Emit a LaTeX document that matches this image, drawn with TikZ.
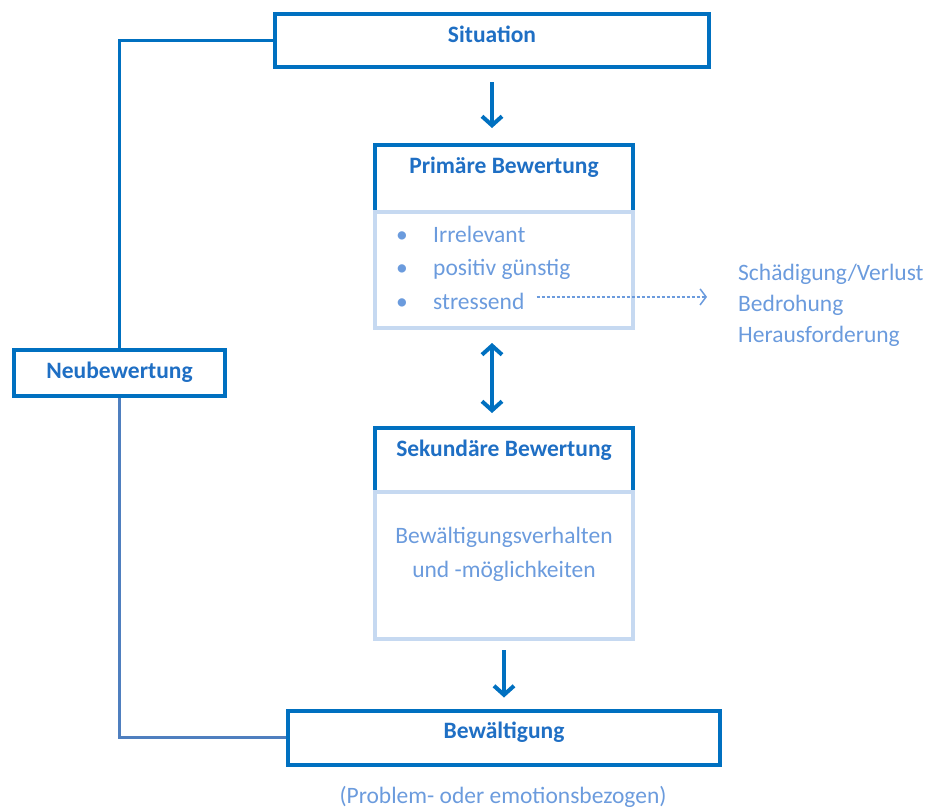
\documentclass[tikz,border=0pt]{standalone}
\usepackage{fontspec}
\setmainfont{Carlito}
\usetikzlibrary{arrows.meta,positioning,calc}

\definecolor{deepblue}{HTML}{0070C0}
\definecolor{titleblue}{HTML}{1F6FC4}
\definecolor{paleblue}{HTML}{C6D9F1}
\definecolor{softblue}{HTML}{6B9BDD}
\definecolor{linkblue}{HTML}{4F7FBF}

\begin{document}
\begin{tikzpicture}[
    x=1pt, y=-1pt,
    font=\fontsize{23.5}{28}\selectfont,
    box/.style={draw=deepblue, line width=4pt, fill=white, inner sep=0pt,
                text=titleblue, font=\fontsize{23.5}{28}\selectfont\bfseries, text height=28pt},
    body/.style={draw=paleblue, line width=4pt, inner sep=0pt},
    soft/.style={text=softblue, inner sep=0pt},
    flow/.style={line width=4pt, deepblue, {Straight Barb[length=9pt,width=20pt]}-{Straight Barb[length=9pt,width=20pt]}},
    down/.style={flow, -{Straight Barb[length=9pt,width=20pt]}},
    dasharr/.style={softblue, line width=1.5pt, dash pattern=on 3pt off 2pt,
                    -{Straight Barb[length=6pt,width=16pt,line width=1.5pt]}},
    link/.style={line width=2.5pt}
  ]
  \useasboundingbox (0,0) rectangle (925,808);

  % ---------- main column --------------------------------------------------
  \node[box, minimum width=434pt, text depth=25pt] (sit) at (492,40.5) {Situation};

  \node[box, minimum width=258pt, text depth=39pt] (prim) at (504,178.5) {Primäre Bewertung};
  \node[body, minimum width=258pt, minimum height=116pt] (pbody) at (504,270) {};

  \node[box, minimum width=258pt, text depth=36pt] (sek) at (504,460) {Sekundäre Bewertung};
  \node[body, minimum width=258pt, minimum height=147pt] (sbody) at (504,565.5) {};

  \node[box, minimum width=432pt, text depth=26pt] (bew) at (504,737.5) {Bewältigung};
  \node[soft, anchor=base] (bewnote) at (503,803) {(Problem- oder emotionsbezogen)};

  % ---------- feedback -----------------------------------------------------
  \node[box, minimum width=211pt, text depth=18pt] (neu) at (119.5,373) {Neubewertung};

  % ---------- box contents -------------------------------------------------
  \foreach \t [count=\i] in {Irrelevant, positiv günstig, stressend}{
    \node[soft, anchor=base west] (item\i) at (396,{242+(\i-1)*33.5})
      {\makebox[37pt][l]{\textbullet}\t};
  }

  % base of a multi-line node = baseline of its last line
  \node[soft, anchor=base west, align=left, font=\fontsize{23.5}{31}\selectfont] (cons) at (738,342)
    {Schädigung/Verlust\\Bedrohung\\Herausforderung};

  \node[soft, anchor=base, align=center, font=\fontsize{23.5}{34}\selectfont] (copes) at (504,577)
    {Bewältigungsverhalten\\und -möglichkeiten};

  % ---------- connectors ---------------------------------------------------
  \draw[down, shorten <=13pt, shorten >=15pt] (sit.south) -- (sit.south |- prim.north);
  \draw[flow, shorten <=13pt, shorten >=13pt] (sit.south |- pbody.south) -- (sit.south |- sek.north);
  \draw[down, shorten <=9pt, shorten >=11pt] (sbody.south) -- (bew.north);

  \draw[dasharr, shorten <=12pt, shorten >=31pt] ([yshift=4pt]item3.east) -- ([yshift=4pt]item3.east -| cons.west);

  \draw[link, deepblue] (sit.west) -| (neu.north);
  \draw[link, linkblue] (neu.south) |- (bew.west);

\end{tikzpicture}
\end{document}
